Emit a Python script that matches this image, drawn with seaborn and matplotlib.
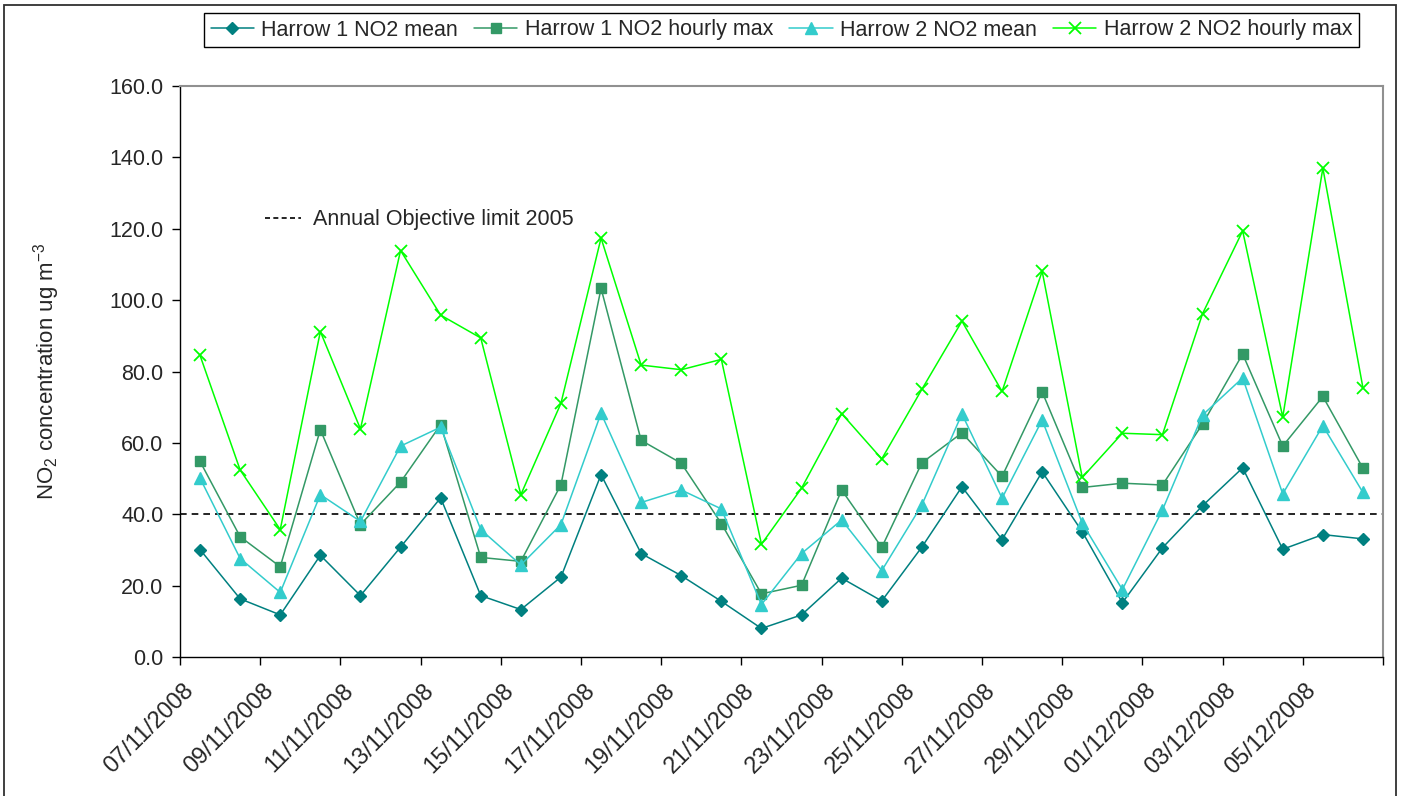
import numpy as np
import matplotlib
matplotlib.use("Agg")
import matplotlib.pyplot as plt
import matplotlib.transforms as mtransforms
from matplotlib.lines import Line2D
from matplotlib.patches import Rectangle
import seaborn as sns

# ---------------- data ----------------
dates = ["07/11/2008", "08/11/2008", "09/11/2008", "10/11/2008", "11/11/2008",
         "12/11/2008", "13/11/2008", "14/11/2008", "15/11/2008", "16/11/2008",
         "17/11/2008", "18/11/2008", "19/11/2008", "20/11/2008", "21/11/2008",
         "22/11/2008", "23/11/2008", "24/11/2008", "25/11/2008", "26/11/2008",
         "27/11/2008", "28/11/2008", "29/11/2008", "30/11/2008", "01/12/2008",
         "02/12/2008", "03/12/2008", "04/12/2008", "05/12/2008", "06/12/2008"]

h1_mean = [30.1, 16.3, 11.8, 28.5, 17.2, 30.8, 44.6, 17.2, 13.3, 22.4,
           51.1, 29.0, 22.8, 15.6, 8.0, 11.8, 22.1, 15.7, 30.8, 47.7,
           32.9, 51.9, 35.1, 15.2, 30.6, 42.4, 53.0, 30.2, 34.3, 33.1]
h1_max = [54.8, 33.7, 25.3, 63.7, 37.1, 49.0, 65.1, 27.9, 26.8, 48.3,
          103.3, 60.7, 54.3, 37.4, 17.7, 20.1, 46.8, 30.7, 54.4, 62.8,
          50.6, 74.3, 47.5, 48.7, 48.2, 65.3, 84.9, 59.1, 73.0, 52.9]
h2_mean = [50.1, 27.6, 18.1, 45.5, 38.0, 59.1, 64.4, 35.7, 25.8, 37.1,
           68.3, 43.3, 46.8, 41.5, 14.7, 29.0, 38.4, 24.2, 42.6, 68.1,
           44.5, 66.4, 37.5, 18.9, 41.2, 67.8, 78.2, 45.7, 64.8, 46.1]
h2_max = [84.5, 52.4, 35.7, 91.2, 63.9, 113.9, 95.8, 89.4, 45.5, 71.1,
          117.4, 81.8, 80.5, 83.4, 31.6, 47.3, 68.2, 55.5, 75.0, 94.1,
          74.4, 108.1, 50.3, 62.7, 62.3, 96.2, 119.4, 67.2, 137.0, 75.4]
annual_limit = 40.0

series_names = ["Harrow 1 NO2 mean", "Harrow 1 NO2 hourly max",
                "Harrow 2 NO2 mean", "Harrow 2 NO2 hourly max"]
limit_label = "Annual Objective limit 2005"
y_label = r"NO$_\mathregular{2}$ concentration ug m$^\mathregular{-3}$"

# ---------------- style ----------------
sns.set_style("white")
plt.rcParams["font.family"] = ["Liberation Sans", "DejaVu Sans"]
plt.rcParams["mathtext.fontset"] = "custom"
plt.rcParams["mathtext.rm"] = "Liberation Sans"
plt.rcParams["mathtext.it"] = "Liberation Sans:italic"
FS = 15.5

fig = plt.figure(figsize=(14.03, 7.96), dpi=100)
ax = fig.add_axes([180 / 1403, 1 - 657 / 796, (1383 - 180) / 1403, (657 - 86) / 796])

idx = np.arange(len(dates))

# reference line
ax.axhline(annual_limit, color="black", linestyle=(0, (4, 3)), linewidth=1.2, zorder=1)

styles = [
    (h1_mean, "#008080", "D", 6.0, 1.0),
    (h1_max, "#339966", "s", 7.0, 1.0),
    (h2_mean, "#33CCCC", "^", 8.6, 1.0),
    (h2_max, "#00FF00", "x", 9.0, 1.3),
]
handles = []
for (vals, col, mk, ms, mew), name in zip(styles, series_names):
    sns.lineplot(x=idx, y=vals, ax=ax, color=col, marker=mk, markersize=ms,
                 markerfacecolor=col, markeredgecolor=col, markeredgewidth=mew,
                 linewidth=1.1, legend=False, zorder=3)
    handles.append(Line2D([], [], color=col, marker=mk, markersize=ms,
                          markerfacecolor=col, markeredgecolor=col,
                          markeredgewidth=mew, linewidth=1.1, label=name))

# axes
ax.set_xlim(-0.5, len(dates) - 0.5)
ax.set_ylim(0, 160)
ax.set_yticks(np.arange(0, 161, 20))
ax.set_yticklabels([f"{v:.1f}" for v in np.arange(0, 161, 20)], fontsize=FS)
xt = np.arange(-0.5, len(dates), 2)
ax.set_xticks(xt)
ax.set_xticklabels(dates[::2] + [""], fontsize=FS + 1.5)
ax.set_xlabel("")
ax.set_ylabel(y_label, fontsize=FS + 0.5, labelpad=34)

ax.tick_params(axis="both", direction="out", length=6, width=1, color="black",
               left=True, bottom=True)
ax.tick_params(axis="y", pad=6)
ax.tick_params(axis="x", pad=16)
for lab in ax.get_xticklabels():
    lab.set_rotation(45)
    lab.set_ha("right")
    lab.set_va("center")
    lab.set_rotation_mode("anchor")
    lab.set_transform(lab.get_transform() +
                      mtransforms.ScaledTranslation(10 / 100, 0, fig.dpi_scale_trans))

for s in ["left", "bottom"]:
    ax.spines[s].set_color("black")
    ax.spines[s].set_linewidth(1.0)
for s in ["top", "right"]:
    ax.spines[s].set_visible(True)
    ax.spines[s].set_color("#909090")
    ax.spines[s].set_linewidth(1.5)
ax.grid(False)

# main legend
leg = fig.legend(handles=handles, loc="center", ncol=4,
                 bbox_to_anchor=(781.5 / 1403, 1 - 30 / 796),
                 fontsize=FS, frameon=True, fancybox=False, edgecolor="black",
                 framealpha=1, handlelength=2.0, handletextpad=0.35,
                 columnspacing=0.75, borderpad=0.3, borderaxespad=0)
leg.get_frame().set_linewidth(1.0)

# limit legend
lim_handle = Line2D([], [], color="black", linestyle=(0, (3, 2)), linewidth=1.2)
ax.legend(handles=[lim_handle], labels=[limit_label], loc="center left",
          bbox_to_anchor=(265 / 1403, 1 - 220 / 796),
          bbox_transform=fig.transFigure, frameon=False, fontsize=FS,
          handlelength=1.65, handletextpad=0.6, borderpad=0, borderaxespad=0)

# outer chart border
fig.patches.append(Rectangle((4 / 1403, -0.02), 1392 / 1403, 1 - 5 / 796 + 0.02,
                             transform=fig.transFigure, fill=False,
                             edgecolor="#303030", linewidth=1.3))

fig.savefig("out.png", dpi=100, facecolor="white")
